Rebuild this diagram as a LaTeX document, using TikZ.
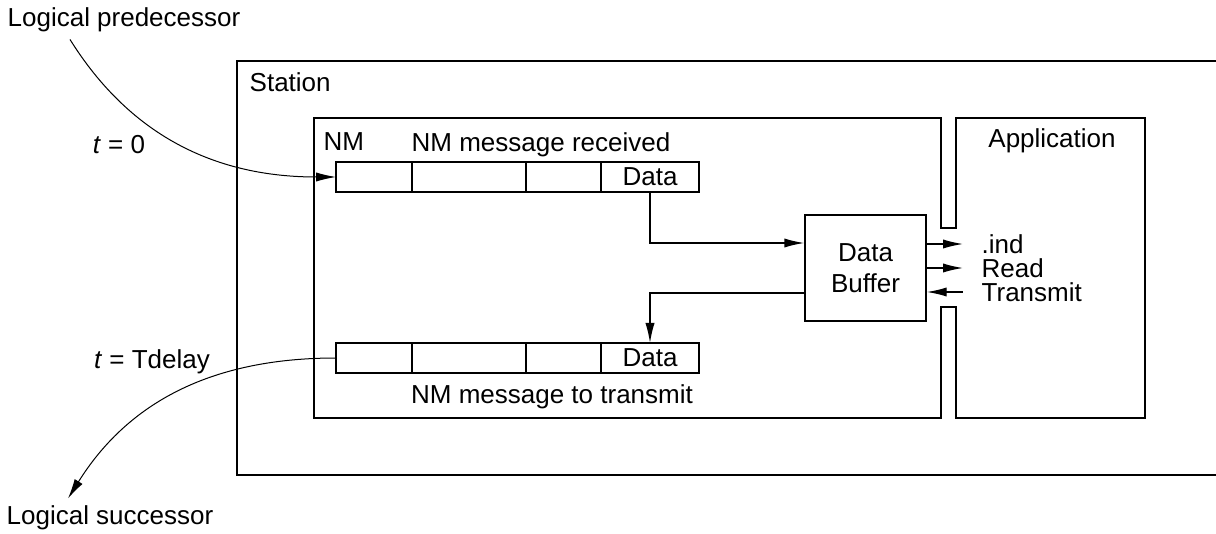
\documentclass[tikz,border=0pt]{standalone}
\usepackage{fontspec}
\setmainfont{Liberation Sans}
\usetikzlibrary{arrows.meta, positioning}
\tikzstyle{cell}=[draw,rectangle,minimum height=15pt,inner sep=0pt,outer sep=0pt]
\tikzstyle{block}=[draw,rectangle,minimum width=60.5pt,minimum height=53pt,align=center,inner sep=0pt]
\tikzstyle{every node}=[font=\fontsize{13}{15.6}\selectfont]
\tikzstyle{lbl}=[inner sep=0pt,anchor=west]

\begin{document}
\begin{tikzpicture}[x=0.5pt,y=-0.5pt,>={Latex[length=10pt,width=4.6pt]},line width=0.7pt]
  \useasboundingbox (0,0) rectangle (1216,534);
  % station, cut off at the right
  \draw[line width=1.4pt] (1216,61) -| (237,475) -- (1216,475);
  % NM and Application, joined by the slot
  \draw (941,228) |- (314,118) |- (941,418) -- (941,307) -- (956,307) |- (1145,418) |- (956,118) -- (956,228) -- cycle;

  \node[lbl] (station) at (249,82) {Station};
  \node[lbl] (nm) at (323,142) {NM};
  \node (app) at (1052,141) {Application};

  % received message
  \node (rxlabel) at (541,145) {NM message received};
  \node[cell, minimum width=38pt, anchor=north west] (r1) at (336,162) {};
  \node[cell, minimum width=57pt, right=0pt of r1] (r2) {};
  \node[cell, minimum width=37.5pt, right=0pt of r2] (r3) {};
  \node[cell, minimum width=49pt, right=0pt of r3] (r4) {Data};

  % message to transmit
  \node[cell, minimum width=38pt, anchor=north west] (t1) at (336,343) {};
  \node[cell, minimum width=57pt, right=0pt of t1] (t2) {};
  \node[cell, minimum width=37.5pt, right=0pt of t2] (t3) {};
  \node[cell, minimum width=49pt, right=0pt of t3] (t4) {Data};
  \node (txlabel) at (552,397) {NM message to transmit};

  \node[block] (buf) at (865.5,268) {Data\\Buffer};
  \node[lbl] (ind) at (981,244) {.ind};
  \node[lbl] (read) at (981,268) {Read};
  \node[lbl] (tmit) at (981,292) {Transmit};

  \node (pred) at (124,20) {Logical predecessor};
  \node (succ) at (110,518) {Logical successor};
  \node (t0) at (119,145) {\textit{t} = 0};
  \node (tdel) at (152,362) {\textit{t} = Tdelay};

  \draw[->] (r4.south) |- ([yshift=12.5pt]buf.west);
  \draw[->] ([yshift=-12.5pt]buf.west) -| (t4.north);
  \draw[->] (buf.east |- ind) -- ([xshift=-9pt]ind.west);
  \draw[->] (buf.east |- read) -- ([xshift=-9pt]read.west);
  \draw[<-] (buf.east |- tmit) -- ([xshift=-9pt]tmit.west);

  \draw[->,line width=0.5pt] ([xshift=-27pt]pred.south) to[out=-58,in=180] (r1.west);
  \draw[->,line width=0.5pt] (t1.west) to[out=180,in=58] ([xshift=-21pt]succ.north);
\end{tikzpicture}
\end{document}
